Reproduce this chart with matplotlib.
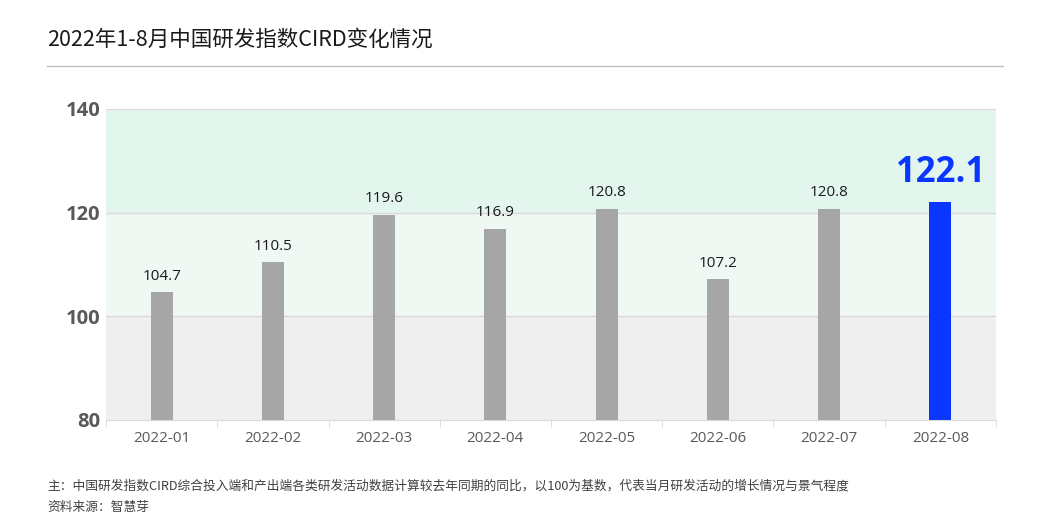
import matplotlib.pyplot as plt
import numpy as np

plt.rcParams['font.family'] = ['Noto Sans CJK SC', 'DejaVu Sans']

months = ['2022-01', '2022-02', '2022-03', '2022-04', '2022-05', '2022-06', '2022-07', '2022-08']
cird = [104.7, 110.5, 119.6, 116.9, 120.8, 107.2, 120.8, 122.1]
y_ticks = [80, 100, 120, 140]
bands = [(80, 100, '#efefef'), (100, 120, '#eff8f3'), (120, 140, '#e3f6ee')]

title = '2022年1-8月中国研发指数CIRD变化情况'
note = '主：中国研发指数CIRD综合投入端和产出端各类研发活动数据计算较去年同期的同比，以100为基数，代表当月研发活动的增长情况与景气程度'
source = '资料来源：智慧芽'

fig = plt.figure(figsize=(10.4, 5.32), dpi=100)
ax = fig.add_axes([106 / 1040, 1 - 420 / 532, 890 / 1040, 311 / 532])

n = len(months)
x = np.arange(n)
for lo, hi, c in bands:
    ax.axhspan(lo, hi, color=c, zorder=0, lw=0)
for t in y_ticks[1:]:
    ax.axhline(t, color='#d9d9d9', lw=1, zorder=1)

colors = ['#a6a6a6'] * (n - 1) + ['#0a37ff']
ax.bar(x, [v - 80 for v in cird], bottom=80, width=0.2, color=colors, zorder=2)

for i, v in enumerate(cird):
    if i == n - 1:
        ax.text(i, v + 2.0, f'{v}', ha='center', va='bottom', fontsize=25,
                fontweight='bold', color='#0a37ff', family=['Open Sans', 'DejaVu Sans'])
    else:
        ax.text(i, v + 1.6, f'{v}', ha='center', va='bottom', fontsize=11, color='#1a1a1a',
                family=['Open Sans', 'DejaVu Sans'])

ax.set_xlim(-0.5, n - 0.5)
ax.set_ylim(80, 140)
ax.set_yticks(y_ticks)
ax.set_yticklabels([str(t) for t in y_ticks], fontsize=14.5, fontweight='bold', color='#595959',
                   family=['Open Sans', 'DejaVu Sans'])
ax.tick_params(axis='y', length=0, pad=4)

ax.set_xticks(x)
ax.set_xticklabels(months, fontsize=11, color='#595959', family=['Open Sans', 'DejaVu Sans'])
ax.set_xticks(np.arange(n + 1) - 0.5, minor=True)
ax.tick_params(axis='x', which='major', length=0, pad=8)
ax.tick_params(axis='x', which='minor', length=5, color='#d9d9d9')

for s in ['top', 'right', 'left']:
    ax.spines[s].set_visible(False)
ax.spines['bottom'].set_color('#d9d9d9')

fig.text(47 / 1040, 1 - 40 / 532, title, fontsize=15.5, color='#1a1a1a', va='center')
fig.add_artist(plt.Line2D([47 / 1040, 1003 / 1040], [1 - 66 / 532, 1 - 66 / 532], color='#bfbfbf', lw=1))
fig.text(47 / 1040, 1 - 486 / 532, note, fontsize=9.15, color='#404040', va='center')
fig.text(47 / 1040, 1 - 508 / 532, source, fontsize=9.15, color='#404040', va='center')

fig.savefig('out.png', dpi=100)
